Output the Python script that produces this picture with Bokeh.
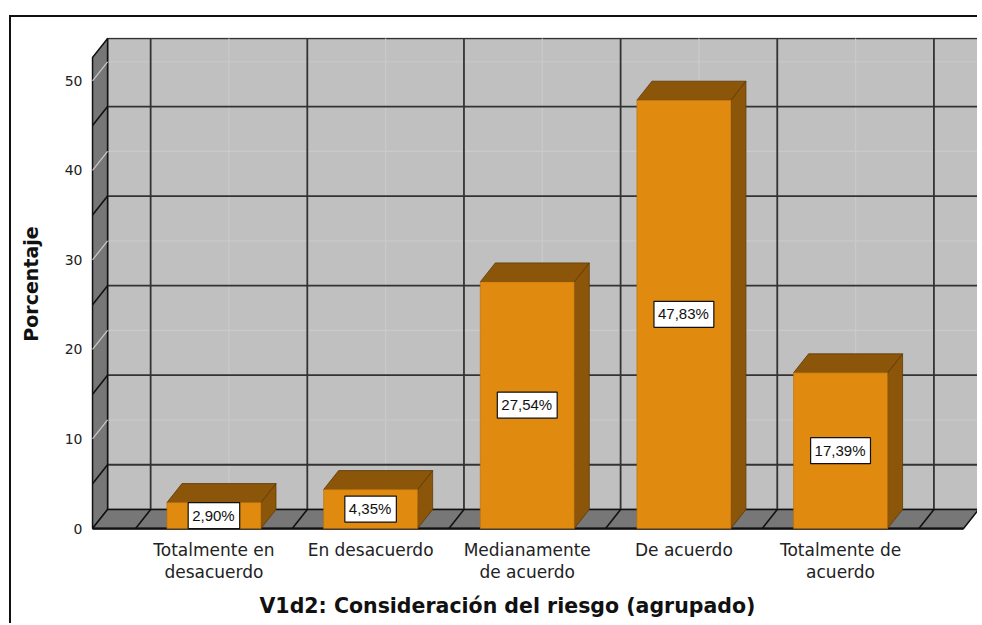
from bokeh.plotting import figure
from bokeh.models import Range1d, FixedTicker, Title
from bokeh.core.properties import value
from bokeh.embed import file_html
from bokeh.resources import INLINE

# ---------------- data ----------------
categories = ["Totalmente en\ndesacuerdo", "En desacuerdo", "Medianamente\nde acuerdo",
              "De acuerdo", "Totalmente de\nacuerdo"]
percentages = [2.90, 4.35, 27.54, 47.83, 17.39]
bar_labels = ["2,90%", "4,35%", "27,54%", "47,83%", "17,39%"]
y_ticks = [0, 10, 20, 30, 40, 50]
y_title = "Porcentaje"
x_title = "V1d2: Consideración del riesgo (agrupado)"

# ---------------- geometry / styles ----------------
N = len(categories)
xs = list(range(1, N + 1))
BAR_W = 0.6          # bar width in category units
DX = 0.096           # 3D depth offset (x, data units)
DY = 2.12            # 3D depth offset (y, data units)
X0 = 0.225           # front left edge of the wall/floor
X1 = N + 0.785       # front right edge of the floor
Y_TOP = 52.6         # front top of the left wall

WALL = "#C0C0C0"
SIDE = "#777777"
DARK = "#333333"
LIGHT = "#CACACA"
BAR_FRONT = "#E08A10"
BAR_DARK = "#8B5609"
FONT = "DejaVu Sans"

p = figure(width=968, height=608,
           x_range=Range1d(X0 - 0.013, X1 + DX + 0.006),
           y_range=Range1d(-0.22, Y_TOP + DY + 0.11),
           output_backend="svg", toolbar_location=None, tools="",
           min_border_left=79, min_border_right=0,
           min_border_top=20, min_border_bottom=95)
# outer chart frame: only its top and left edges fall inside the window
p.styles = {"border-top": "2px solid #111", "border-left": "2px solid #111",
            "margin-top": "15px", "margin-left": "9px"}
p.xgrid.visible = False
p.ygrid.visible = False
p.outline_line_color = None
p.background_fill_color = "white"
p.border_fill_color = "white"

boundaries = [i + 0.5 for i in range(0, N + 1)]
dark_levels = [t + 5 for t in y_ticks[:-1]]
light_levels = y_ticks[1:]

# back wall
p.quad(left=X0 + DX, right=X1 + DX, bottom=DY, top=Y_TOP + DY,
       fill_color=WALL, line_color=DARK, line_width=1.5)
# back wall light grid (value ticks + category centres)
p.segment(x0=[X0 + DX] * len(light_levels), y0=[t + DY for t in light_levels],
          x1=[X1 + DX] * len(light_levels), y1=[t + DY for t in light_levels],
          line_color=LIGHT, line_width=1.2)
p.segment(x0=[x + DX for x in xs], y0=[DY] * N,
          x1=[x + DX for x in xs], y1=[Y_TOP + DY] * N,
          line_color=LIGHT, line_width=1.2)
# back wall dark grid
p.segment(x0=[X0 + DX] * len(dark_levels), y0=[t + DY for t in dark_levels],
          x1=[X1 + DX] * len(dark_levels), y1=[t + DY for t in dark_levels],
          line_color=DARK, line_width=1.8)
p.segment(x0=[b + DX for b in boundaries], y0=[DY] * len(boundaries),
          x1=[b + DX for b in boundaries], y1=[Y_TOP + DY] * len(boundaries),
          line_color=DARK, line_width=1.8)

# left wall
p.patch([X0, X0 + DX, X0 + DX, X0], [0, DY, Y_TOP + DY, Y_TOP],
        fill_color=SIDE, line_color="#111111", line_width=1.5)
p.segment(x0=[X0] * len(light_levels), y0=light_levels,
          x1=[X0 + DX] * len(light_levels), y1=[t + DY for t in light_levels],
          line_color=LIGHT, line_width=1.2)
p.segment(x0=[X0] * len(dark_levels), y0=dark_levels,
          x1=[X0 + DX] * len(dark_levels), y1=[t + DY for t in dark_levels],
          line_color="#111111", line_width=1.6)

# floor
p.patch([X0, X1, X1 + DX, X0 + DX], [0, 0, DY, DY],
        fill_color=SIDE, line_color="#111111", line_width=1.5)
p.segment(x0=boundaries, y0=[0] * len(boundaries),
          x1=[b + DX for b in boundaries], y1=[DY] * len(boundaries),
          line_color="#111111", line_width=1.6)
p.segment(x0=[X0], y0=[0], x1=[X1], y1=[0], line_color="#111111", line_width=2.2)

# bars
half = BAR_W / 2
tops_x = [[x - half, x + half, x + half + DX, x - half + DX] for x in xs]
tops_y = [[v, v, v + DY, v + DY] for v in percentages]
side_x = [[x + half, x + half + DX, x + half + DX, x + half] for x in xs]
side_y = [[0, DY, v + DY, v] for v in percentages]
p.patches(side_x, side_y, fill_color=BAR_DARK, line_color="#5C3906", line_width=0.8)
p.patches(tops_x, tops_y, fill_color=BAR_DARK, line_color="#5C3906", line_width=0.8)
p.quad(left=[x - half for x in xs], right=[x + half for x in xs],
       bottom=[0] * N, top=percentages,
       fill_color=BAR_FRONT, line_color="#B86E08", line_width=0.6)

# value labels
p.text(x=xs, y=[v / 2 for v in percentages], text=bar_labels,
       text_font=value("Liberation Sans"), text_font_size="15px",
       text_color="#111111", text_align="center", text_baseline="middle",
       background_fill_color="white", border_line_color="#111111",
       border_line_width=1.2, padding=(4, 5, 4, 5))

# axes
p.xaxis.ticker = FixedTicker(ticks=xs)
p.xaxis.major_label_overrides = {x: c for x, c in zip(xs, categories)}
p.xaxis.axis_line_color = None
p.xaxis.major_tick_line_color = None
p.xaxis.minor_tick_line_color = None
p.xaxis.major_label_standoff = 3
p.xaxis.major_label_text_font = FONT
p.xaxis.major_label_text_font_size = "17px"
p.xaxis.major_label_text_line_height = 1.1
p.xaxis.major_label_text_color = "#222222"

p.yaxis.ticker = FixedTicker(ticks=y_ticks)
p.yaxis.axis_line_color = None
p.yaxis.major_tick_line_color = None
p.yaxis.minor_tick_line_color = None
p.yaxis.major_label_standoff = 2
p.yaxis.major_label_text_font = FONT
p.yaxis.major_label_text_font_size = "14px"
p.yaxis.major_label_text_color = "#222222"
p.yaxis.axis_label = y_title
p.yaxis.axis_label_text_font = FONT
p.yaxis.axis_label_text_font_size = "19px"
p.yaxis.axis_label_text_font_style = "bold"
p.yaxis.axis_label_text_color = "#111111"
p.yaxis.axis_label_standoff = 20

p.add_layout(Title(text=x_title, align="left", offset=169, standoff=14,
                   text_font=FONT, text_font_size="20.5px", text_font_style="bold",
                   text_color="#111111"), "below")

open("out.html", "w").write(file_html(p, INLINE))
